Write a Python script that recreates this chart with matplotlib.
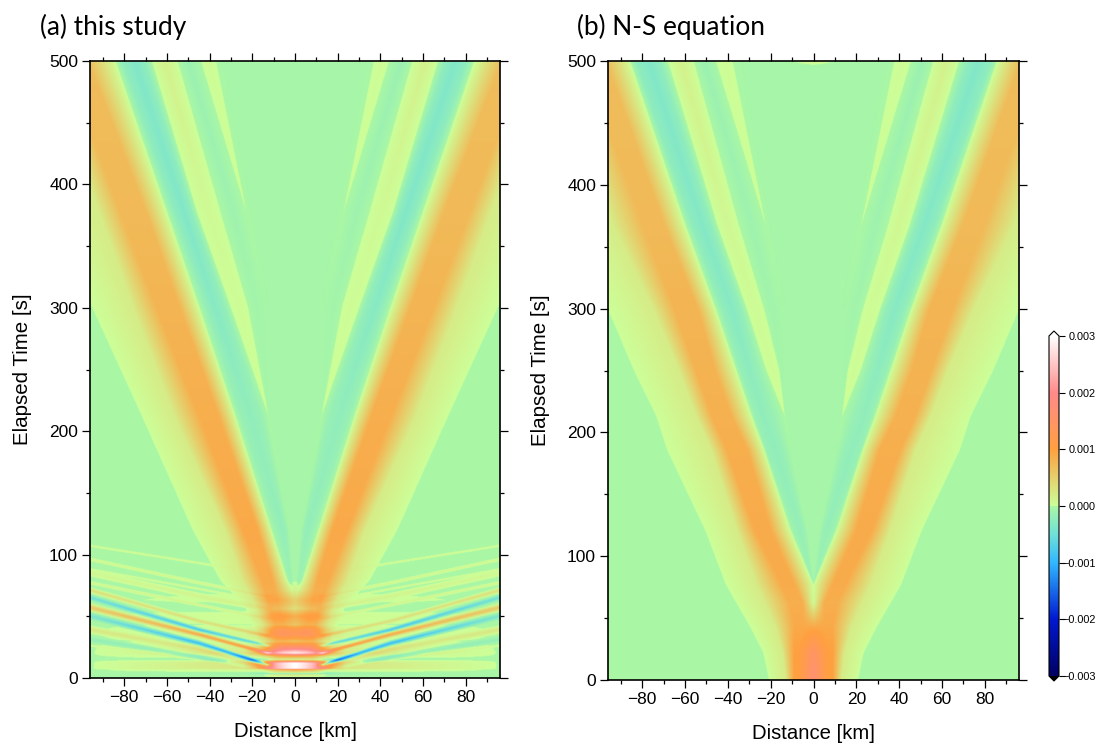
import matplotlib
matplotlib.use('Agg')
import matplotlib.pyplot as plt
import numpy as np
from matplotlib.colors import LinearSegmentedColormap, Normalize
#====================================================================
''' Values read off the picture: band positions [km] at given times [s], one side of the V '''
bg = -0.00003

# (a) this study
a_times      = [0, 4, 40, 60, 79, 120, 213, 300, 378, 500]
a_edge       = [15, 15, 19, 25, 35, 48, 72, 95, 115, 145]
a_shoulder   = [11, 11, 15, 19, 25, 33, 57, 76, 92, 118]
a_plateau_o  = [8, 8, 9, 12, 15.5, 24.5, 45, 65, 82, 108]
a_plateau_i  = [6, 6, 5, 8, 10.5, 17.5, 36, 54, 70, 97]
a_cross      = [0, 0, 0, 0, 3.5, 11, 28, 44.7, 60, 84]
a_teal_o     = [0, 0, 0, 0, 3, 8.5, 25.5, 41, 56.5, 80.5]
a_teal       = [0, 0, 0, 0, 1.5, 5.5, 21, 37.5, 52, 75]
a_teal_i     = [0, 0, 0, 0, 1.2, 3.8, 16, 33, 48.5, 70.5]
a_cross2     = [0, 0, 0, 0, 1, 3, 12.5, 30, 46, 67]
a_yellow     = [0, 0, 0, 0, 0.8, 2.7, 12.5, 26, 40.5, 61]
a_cross3     = [0, 0, 0, 0, 0.6, 2.4, 12.5, 22, 35, 55]
a_teal2      = [0, 0, 0, 0, 0.5, 2.1, 12, 18, 29, 50]
a_tip_o      = [0, 0, 0, 0, 0.4, 1.8, 11, 14, 22.8, 44]
a_tip_p      = [0, 0, 0, 0, 0.3, 1.5, 10.5, 13, 22.8, 40.5]
a_tip_i      = [0, 0, 0, 0, 0.2, 1.2, 10, 12.5, 22.8, 37]
a_inner      = [0, 0, 0, 0, 0.1, 0.5, 9, 11, 20, 33]

a_center     = [bg, 0.0004, 0.0006, 0.0005]
a_edge_v     = [bg, 0, 0, 0, 0, 0, 0, 0, 0, 0]
a_shoulder_v = [bg, 0.0002, 0.0002, 0.0002, 0.0002, 0.0002, 0.0002, 0.0002, 0.0002, 0.0002]
a_peak_v     = [bg, 0.0003, 0.0008, 0.00088, 0.00088, 0.0009, 0.00085, 0.00078, 0.00073, 0.0007]
a_cross_v    = a_center + [0, 0, 0, 0, 0, 0]
a_side_v     = a_center + [-0.00008, -0.00013, -0.00015, -0.0002, -0.00023, -0.00023]
a_teal_v     = a_center + [-0.00012, -0.0002, -0.00022, -0.0003, -0.00035, -0.00035]
a_cross2_v   = a_center + [bg, bg, 0, 0, 0, 0]
a_yellow_v   = a_center + [bg, bg, 0, 0.00003, 0.00006, 0.00015]
a_cross3_v   = a_center + [bg, bg, 0, 0, 0, 0]
a_teal2_v    = a_center + [bg, bg, -0.00003, -0.00006, -0.0001, -0.00013]
a_tip_o_v    = a_center + [bg, bg, bg, bg, 0, 0]
a_tip_p_v    = a_center + [bg, bg, bg, bg, 0, 0.00003]
a_tip_i_v    = a_center + [bg, bg, bg, bg, 0, 0]
a_inner_v    = a_center + [bg, bg, bg, bg, bg, bg]

# early arrivals in (a): time of each arc at 13, 45, 96 km, its amplitude there and half width
arc_d   = [10, 13, 45, 96]
arc_t13 = [84, 66, 62, 56, 48, 34, 26, 20, 10.5, 8, 5, 4]
arc_t45 = [93, 77, 72, 66, 59, 46, 39, 35, 28, 23, 17, 14.6]
arc_t96 = [107, 96, 88, 85, 77, 71, 65, 57, 50, 39, 31, 26]
arc_a13 = [0, 0.0001, 0, 0.00015, 0.0001, 0.0004, -0.0006, 0.0012, -0.0017, 0.0002, -0.0001, 0.00005]
arc_a45 = [0.00006, 0.00008, 0.00006, 0.00012, 0.00012, 0.00035, -0.0009, 0.0009, -0.001, 0.00025, -0.0003, 0.00005]
arc_a96 = [0.00006, 0.00008, 0.00005, 0.00008, 0.00008, 0.00035, -0.0005, 0.0006, -0.0004, 0.00025, -0.00018, 0.00005]
arc_w13 = [1, 1.5, 1, 3, 1.5, 2, 1.5, 2, 2, 2.5, 2, 1]
arc_w96 = [1, 1.5, 1, 3, 1.5, 2.5, 3, 3.5, 3.5, 3.5, 3, 1]

# flat stripes at the middle of (a)
stripe_t = [3, 6.5, 7.5, 12, 14.6, 17.3, 20, 24, 29.5, 35, 39, 43, 50, 56, 63, 71, 78]
stripe_v = [-0.0005, 0.0005, 0.0026, 0.0026, -0.0004, 0.0004, 0.0024, 0.0013, 0.0001, 0.0008, 0.0006, 0, 0.0003, -0.0002, 0.0001, -0.00005, 0]
stripe_d = [0, 5, 12, 18, 24, 96]
stripe_f = [1, 0.9, 0.65, 0.3, 0.1, 0]

# (b) N-S equation
b_times      = [0, 22, 43, 62, 77, 121, 186, 213, 250, 299, 368, 500]
b_edge       = [20.8, 23.5, 29.7, 36, 41, 50.7, 68.5, 73.5, 84, 96, 113, 146]
b_shoulder   = [13, 14.5, 18, 23, 27, 36, 48, 55, 63, 75, 94, 120]
b_plateau_o  = [9, 9, 9, 11, 15, 27.5, 40.5, 47.5, 55, 65, 80, 107]
b_plateau_i  = [7, 7, 5, 5, 9, 20, 31, 38.5, 46, 54, 70, 97]
b_cross      = [0, 0, 0, 0, 0, 10.7, 23, 28.8, 36, 45.5, 60, 85.7]
b_teal_o     = [0, 0, 0, 0, 0, 9, 22, 27, 34, 42.5, 57, 83]
b_teal       = [0, 0, 0, 0, 0, 6, 18, 23.6, 30, 38, 52, 77]
b_teal_i     = [0, 0, 0, 0, 0, 4, 14, 19, 26, 34, 48, 72]
b_cross2     = [0, 0, 0, 0, 0, 3, 11, 13.4, 22, 31, 45, 68]
b_yellow     = [0, 0, 0, 0, 0, 2.5, 10.5, 13.4, 19, 27, 40, 62]
b_cross3     = [0, 0, 0, 0, 0, 2, 10, 13.4, 16, 23, 35, 56]
b_teal2      = [0, 0, 0, 0, 0, 1.5, 9.5, 13, 15, 19.5, 29, 51]
b_tip_o      = [0, 0, 0, 0, 0, 1, 9, 12, 13, 15, 22.4, 45.5]
b_tip_p      = [0, 0, 0, 0, 0, 0.7, 8.5, 11.5, 12.5, 14.5, 22.4, 41.5]
b_tip_i      = [0, 0, 0, 0, 0, 0.5, 8, 11, 12, 14, 22.4, 37.8]
b_inner      = [0, 0, 0, 0, 0, 0.2, 7, 10, 11, 12, 20, 33]

b_center     = [0.0017, 0.0015, 0.0009, 0.00005]
b_edge_v     = [0] * 12
b_shoulder_v = [0.0002] * 12
b_peak_v     = [0.001, 0.001, 0.0009, 0.00085, 0.00088, 0.00088, 0.00085, 0.00082, 0.0008, 0.00078, 0.00073, 0.0007]
b_cross_v    = b_center + [0, 0, 0, 0, 0, 0, 0, 0]
b_side_v     = b_center + [-0.00008, -0.00012, -0.00015, -0.00015, -0.00017, -0.0002, -0.00022, -0.00023]
b_teal_v     = b_center + [-0.00012, -0.00018, -0.00022, -0.00022, -0.00025, -0.0003, -0.00033, -0.00035]
b_cross2_v   = b_center + [bg, bg, bg, 0, 0, 0, 0, 0]
b_yellow_v   = b_center + [bg, bg, bg, 0, 0.00003, 0.00004, 0.00008, 0.00015]
b_cross3_v   = b_center + [bg, bg, bg, 0, 0, 0, 0, 0]
b_teal2_v    = b_center + [bg, bg, bg, bg, -0.00004, -0.00007, -0.0001, -0.00013]
b_tip_o_v    = b_center + [bg, bg, bg, bg, bg, bg, 0, 0]
b_tip_p_v    = b_center + [bg, bg, bg, bg, bg, bg, 0, 0.00003]
b_tip_i_v    = b_center + [bg, bg, bg, bg, bg, bg, 0, 0]
b_inner_v    = b_center + [bg, bg, bg, bg, bg, bg, bg, bg]

x_ticks = [-80, -60, -40, -20, 0, 20, 40, 60, 80]
y_ticks = [0, 100, 200, 300, 400, 500]
cbar_ticks = [-0.003, -0.002, -0.001, 0.0, 0.001, 0.002, 0.003]
#====================================================================
''' Grid size '''
xmin = -96
xmax = 96
ymin = 0
ymax = 500
dist = np.linspace(xmin, xmax, 770)
time = np.linspace(ymin, ymax, 1001)


def v_field(times, pos_lists, val_lists):
    field = np.zeros((len(time), len(dist)))
    for i, t in enumerate(time):
        pos = [400.0] + [np.interp(t, times, p) for p in pos_lists]
        val = [bg] + [np.interp(t, times, v) for v in val_lists]
        field[i] = np.interp(np.abs(dist), pos[::-1], val[::-1])
    return field


def arc_field():
    field = np.zeros((len(time), len(dist)))
    ad = np.abs(dist)
    for k in range(len(arc_w96)):
        tc = np.interp(ad, arc_d, [arc_t13[k], arc_t13[k], arc_t45[k], arc_t96[k]])
        amp = np.interp(ad, arc_d, [0, arc_a13[k], arc_a45[k], arc_a96[k]])
        wid = np.interp(ad, [13, 96], [arc_w13[k], arc_w96[k]])
        for j in range(len(dist)):
            field[:, j] += np.interp(time, [tc[j] - wid[j], tc[j], tc[j] + wid[j]], [0, amp[j], 0])
    stripes = np.interp(time, stripe_t, stripe_v, left=0, right=0)
    field += np.outer(stripes, np.interp(ad, stripe_d, stripe_f))
    return field


field_a = v_field(a_times,
                  [a_edge, a_shoulder, a_plateau_o, a_plateau_i, a_cross, a_teal_o, a_teal, a_teal_i, a_cross2, a_yellow,
                   a_cross3, a_teal2, a_tip_o, a_tip_p, a_tip_i, a_inner],
                  [a_edge_v, a_shoulder_v, a_peak_v, a_peak_v, a_cross_v, a_side_v, a_teal_v, a_side_v, a_cross2_v, a_yellow_v,
                   a_cross3_v, a_teal2_v, a_tip_o_v, a_tip_p_v, a_tip_i_v, a_inner_v]) + arc_field()

field_b = v_field(b_times,
                  [b_edge, b_shoulder, b_plateau_o, b_plateau_i, b_cross, b_teal_o, b_teal, b_teal_i, b_cross2, b_yellow,
                   b_cross3, b_teal2, b_tip_o, b_tip_p, b_tip_i, b_inner],
                  [b_edge_v, b_shoulder_v, b_peak_v, b_peak_v, b_cross_v, b_side_v, b_teal_v, b_side_v, b_cross2_v, b_yellow_v,
                   b_cross3_v, b_teal2_v, b_tip_o_v, b_tip_p_v, b_tip_i_v, b_inner_v])
# the little yellow patch at the top middle of (b)
patch = np.outer(np.interp(time, [496, 500], [0, 0.00009]), np.interp(np.abs(dist), [0, 13], [1, 0]))
field_b = field_b + patch
#====================================================================
''' Colour scale, with the jump at zero '''
cmap = LinearSegmentedColormap.from_list('wave', [
    (0.0, '#000060'), (1 / 6, '#0018d0'), (2 / 6, '#30b8ff'), (5 / 12, '#70e0d8'),
    (0.5, '#aaf7a5'), (0.5, '#ccff99'), (4 / 6, '#ffa040'), (5 / 6, '#ff8a8a'), (1.0, '#ffffff')], N=4096)
cmap.set_over('white')
cmap.set_under('black')
norm = Normalize(-0.003, 0.003)

plt.rcParams['font.family'] = ['Liberation Sans', 'DejaVu Sans']
W = 1105
H = 743
fig = plt.figure(figsize=(W / 100, H / 100), dpi=100)


def make_ax(x0, x1, y0, y1, field, title, title_x, xpad):
    ax = fig.add_axes([x0 / W, 1 - y1 / H, (x1 - x0) / W, (y1 - y0) / H])
    im = ax.imshow(field, origin='lower', extent=[xmin, xmax, ymin, ymax], aspect='auto',
                   cmap=cmap, norm=norm, interpolation='bilinear')
    ax.set_xlim(xmin, xmax)
    ax.set_ylim(ymin, ymax)
    ax.set_xticks(x_ticks)
    ax.set_xticks(np.arange(-90, 91, 20), minor=True)
    ax.set_yticks(y_ticks)
    ax.set_yticks(np.arange(50, 500, 100), minor=True)
    ax.tick_params(which='major', direction='out', length=5.6, width=0.9, top=True, right=True,
                   labelsize=12.5, pad=3)
    ax.tick_params(which='minor', direction='out', length=3, width=0.9, top=True, right=True)
    for s in ax.spines.values():
        s.set_linewidth(1.2)
    ax.set_xlabel('Distance [km]', fontsize=14.6, labelpad=xpad)
    ax.set_ylabel('Elapsed Time [s]', fontsize=14.8, labelpad=12)
    fig.text(title_x / W, 1 - 27 / H, title, family=['Lato', 'DejaVu Sans'], fontsize=18.9, va='center')
    return im


im = make_ax(90, 500, 61, 678, field_a, '(a) this study', 40, 12)
make_ax(608, 1019, 61, 680, field_b, '(b) N-S equation', 577, 12)

cax = fig.add_axes([1049 / W, 1 - 681 / H, 10 / W, 350 / H])
cb = fig.colorbar(im, cax=cax, extend='both', extendfrac=0.0147, ticks=cbar_ticks)
cb.ax.tick_params(labelsize=7.8, length=4.5, width=0.8, pad=22)
cb.ax.set_yticklabels(['\u22120.003', '\u22120.002', '\u22120.001', '0.000', '0.001', '0.002', '0.003'], ha='right')
cb.outline.set_linewidth(0.8)

fig.savefig('out.png', dpi=100)
